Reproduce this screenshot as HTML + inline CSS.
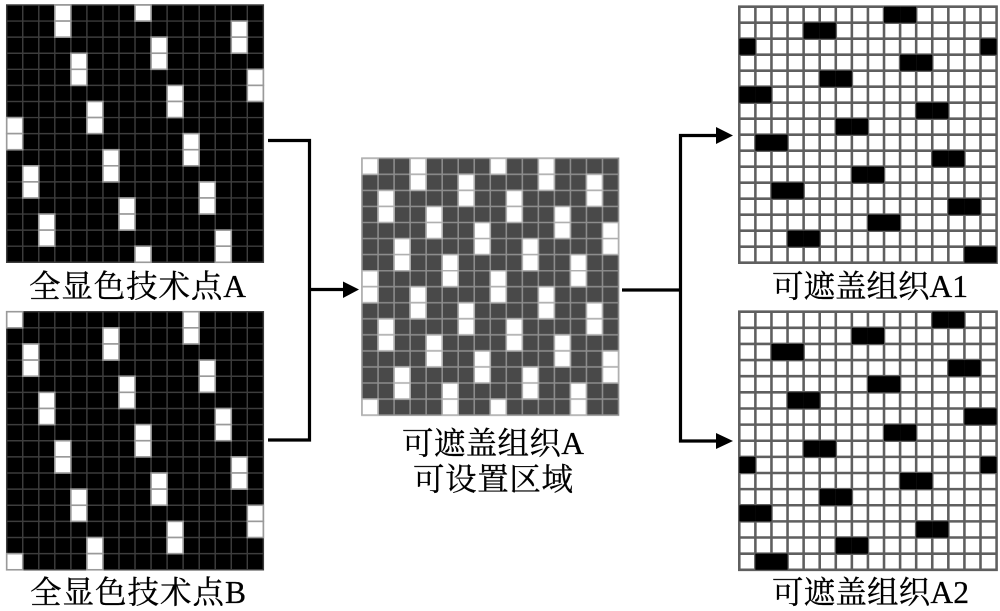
<!DOCTYPE html>
<html>
<head>
<meta charset="utf-8">
<style>
html,body{margin:0;padding:0;background:#fff}
svg{display:block}
text{font-family:"Liberation Serif","Noto Serif CJK SC",serif;font-size:31.5px;fill:#000;stroke:#000;stroke-width:.3px}
</style>
</head>
<body>
<svg width="1000" height="611" viewBox="0 0 1000 611" xmlns="http://www.w3.org/2000/svg">
<defs>
<filter id="b" x="-2%" y="-2%" width="104%" height="104%"><feGaussianBlur stdDeviation="0.35"/></filter>
<filter id="t" x="-2%" y="-5%" width="104%" height="110%"><feGaussianBlur stdDeviation="0.3"/></filter>
<path id="g" fill="none" d="M0 0H16V16H0ZM0 1H16M0 2H16M0 3H16M0 4H16M0 5H16M0 6H16M0 7H16M0 8H16M0 9H16M0 10H16M0 11H16M0 12H16M0 13H16M0 14H16M0 15H16M1 0V16M2 0V16M3 0V16M4 0V16M5 0V16M6 0V16M7 0V16M8 0V16M9 0V16M10 0V16M11 0V16M12 0V16M13 0V16M14 0V16M15 0V16"/>
<rect id="c" width="1" height="1"/>
<g id="p"><use href="#c"/><use href="#c" y="1"/></g>
<g id="h"><use href="#c"/><use href="#c" x="1"/></g>
<g id="wa">
<use href="#c" x="8" y="0"/><use href="#c" x="8" y="15"/>
<use href="#p" x="3" y="0"/><use href="#p" x="14" y="1"/><use href="#p" x="9" y="2"/><use href="#p" x="4" y="3"/><use href="#p" x="15" y="4"/><use href="#p" x="10" y="5"/><use href="#p" x="5" y="6"/><use href="#p" x="0" y="7"/><use href="#p" x="11" y="8"/><use href="#p" x="6" y="9"/><use href="#p" x="1" y="10"/><use href="#p" x="12" y="11"/><use href="#p" x="7" y="12"/><use href="#p" x="2" y="13"/><use href="#p" x="13" y="14"/>
</g>
<g id="wb">
<use href="#c" x="0" y="0"/><use href="#c" x="0" y="15"/>
<use href="#p" x="11" y="0"/><use href="#p" x="6" y="1"/><use href="#p" x="1" y="2"/><use href="#p" x="12" y="3"/><use href="#p" x="7" y="4"/><use href="#p" x="2" y="5"/><use href="#p" x="13" y="6"/><use href="#p" x="8" y="7"/><use href="#p" x="3" y="8"/><use href="#p" x="14" y="9"/><use href="#p" x="9" y="10"/><use href="#p" x="4" y="11"/><use href="#p" x="15" y="12"/><use href="#p" x="10" y="13"/><use href="#p" x="5" y="14"/>
</g>
</defs>

<g filter="url(#b)">
<!-- Grid A -->
<g transform="translate(6.7,5) scale(16.04,16.08)">
<rect width="16" height="16" fill="#000"/>
<use href="#g" stroke="#3c3c3c" stroke-width=".09"/>
<use href="#wa" fill="#fff" stroke="#9a9a9a" stroke-width=".1"/>
</g>
<!-- Grid B -->
<g transform="translate(6.7,311.7) scale(16.04,16.13)">
<rect width="16" height="16" fill="#000"/>
<use href="#g" stroke="#3c3c3c" stroke-width=".09"/>
<use href="#wb" fill="#fff" stroke="#9a9a9a" stroke-width=".1"/>
</g>
<!-- Centre -->
<g transform="translate(362,158.3) scale(16.03,16.05)">
<rect width="16" height="16" fill="#484848"/>
<use href="#g" stroke="#8c8c8c" stroke-width=".1"/>
<use href="#wa" fill="#fff" stroke="#b0b0b0" stroke-width=".1"/>
<use href="#wb" fill="#fff" stroke="#b0b0b0" stroke-width=".1"/>
</g>
<!-- A1 -->
<g transform="translate(739.3,6.7) scale(16.08,16)">
<rect width="16" height="16" fill="#fff"/>
<use href="#g" stroke="#5e5e5e" stroke-width=".16"/>
<g fill="#000">
<use href="#h" x="9" y="0"/><use href="#h" x="4" y="1"/><use href="#c" x="0" y="2"/><use href="#c" x="15" y="2"/><use href="#h" x="10" y="3"/><use href="#h" x="5" y="4"/><use href="#h" x="0" y="5"/><use href="#h" x="11" y="6"/><use href="#h" x="6" y="7"/><use href="#h" x="1" y="8"/><use href="#h" x="12" y="9"/><use href="#h" x="7" y="10"/><use href="#h" x="2" y="11"/><use href="#h" x="13" y="12"/><use href="#h" x="8" y="13"/><use href="#h" x="3" y="14"/><use href="#h" x="14" y="15"/>
</g>
</g>
<!-- A2 -->
<g transform="translate(739.3,311.7) scale(16.08,16.13)">
<rect width="16" height="16" fill="#fff"/>
<use href="#g" stroke="#5e5e5e" stroke-width=".16"/>
<g fill="#000">
<use href="#h" x="12" y="0"/><use href="#h" x="7" y="1"/><use href="#h" x="2" y="2"/><use href="#h" x="13" y="3"/><use href="#h" x="8" y="4"/><use href="#h" x="3" y="5"/><use href="#h" x="14" y="6"/><use href="#h" x="9" y="7"/><use href="#h" x="4" y="8"/><use href="#c" x="0" y="9"/><use href="#c" x="15" y="9"/><use href="#h" x="10" y="10"/><use href="#h" x="5" y="11"/><use href="#h" x="0" y="12"/><use href="#h" x="11" y="13"/><use href="#h" x="6" y="14"/><use href="#h" x="1" y="15"/>
</g>
</g>
<!-- Connectors -->
<g fill="none" stroke="#000" stroke-width="3.2">
<path d="M268 140.5H309.5V440H268"/>
<path d="M309.5 289.5H345"/>
<path d="M622 290H680.5"/>
<path d="M718 135.5H680.5V441H718"/>
</g>
<g fill="#000">
<path d="M343 281.5L359 289.5L343 298Z"/>
<path d="M716 127L733 135.5L716 144Z"/>
<path d="M716 433L733 441L716 449Z"/>
</g>
</g>

<!-- Labels -->
<g filter="url(#t)">
<text x="29" y="297" textLength="217" lengthAdjust="spacing">全显色技术点A</text>
<text x="30" y="603" textLength="216" lengthAdjust="spacing">全显色技术点B</text>
<text x="402" y="454" textLength="182" lengthAdjust="spacing">可遮盖组织A</text>
<text x="413" y="490" textLength="160" lengthAdjust="spacing">可设置区域</text>
<text x="772" y="297" textLength="196" lengthAdjust="spacing">可遮盖组织A1</text>
<text x="772" y="603" textLength="197" lengthAdjust="spacing">可遮盖组织A2</text>
</g>
</svg>
</body>
</html>
